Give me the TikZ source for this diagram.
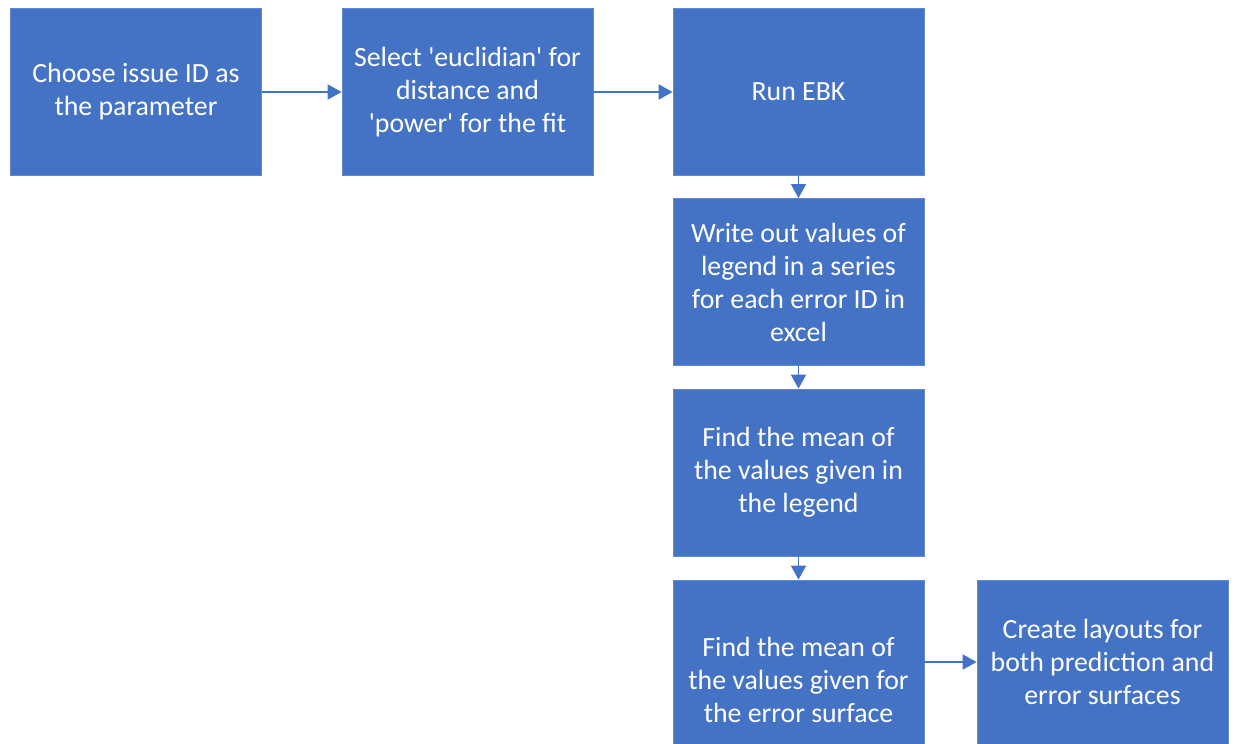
\documentclass[tikz,border=0pt]{standalone}
\usepackage{fontspec}
\setmainfont{Carlito}
\usetikzlibrary{arrows.meta}
\definecolor{boxblue}{HTML}{4472C4}
\definecolor{boxedge}{HTML}{6189D2}
\tikzset{
  stepbox/.style={draw=boxedge, line width=0.8pt, fill=boxblue, text=white,
    minimum width=251pt, minimum height=167pt, align=center, inner sep=0pt,
    font=\fontsize{27.8}{33}\selectfont},
  flow/.style={draw=boxblue, line width=1.8pt, -{Triangle[length=14pt,width=15pt]}}
}
\begin{document}
\begin{tikzpicture}[x=1pt,y=-1pt]
\useasboundingbox[fill=white] (0,0) rectangle (1235,744);
\node[stepbox] (b1) at (136,92) {Choose issue ID as\\the parameter};
\node[stepbox] (b2) at (467.5,92) {Select \textquotesingle euclidian\textquotesingle{} for\\distance and\\\textquotesingle power\textquotesingle{} for the fit};
\node[stepbox] (b3) at (798.5,92) {Run EBK};
\node[stepbox] (b4) at (798.5,282) {Write out values of\\legend in a series\\for each error ID in\\excel};
\node[stepbox] (b5) at (798.5,472.5) {Find the mean of\\the values given in\\the legend};
\node[stepbox, minimum height=200pt] (b6) at (798.5,680) {Find the mean of\\the values given for\\the error surface};
\node[stepbox, minimum height=164pt] (b7) at (1102.5,662) {Create layouts for\\both prediction and\\error surfaces};
\draw[flow] (b1) -- (b2);
\draw[flow] (b2) -- (b3);
\draw[flow] (b3) -- (b4);
\draw[flow] (b4) -- (b5);
\draw[flow] (b5) -- (b6);
\draw[flow] (b7.west -| b6.east) -- (b7.west);
\end{tikzpicture}
\end{document}
